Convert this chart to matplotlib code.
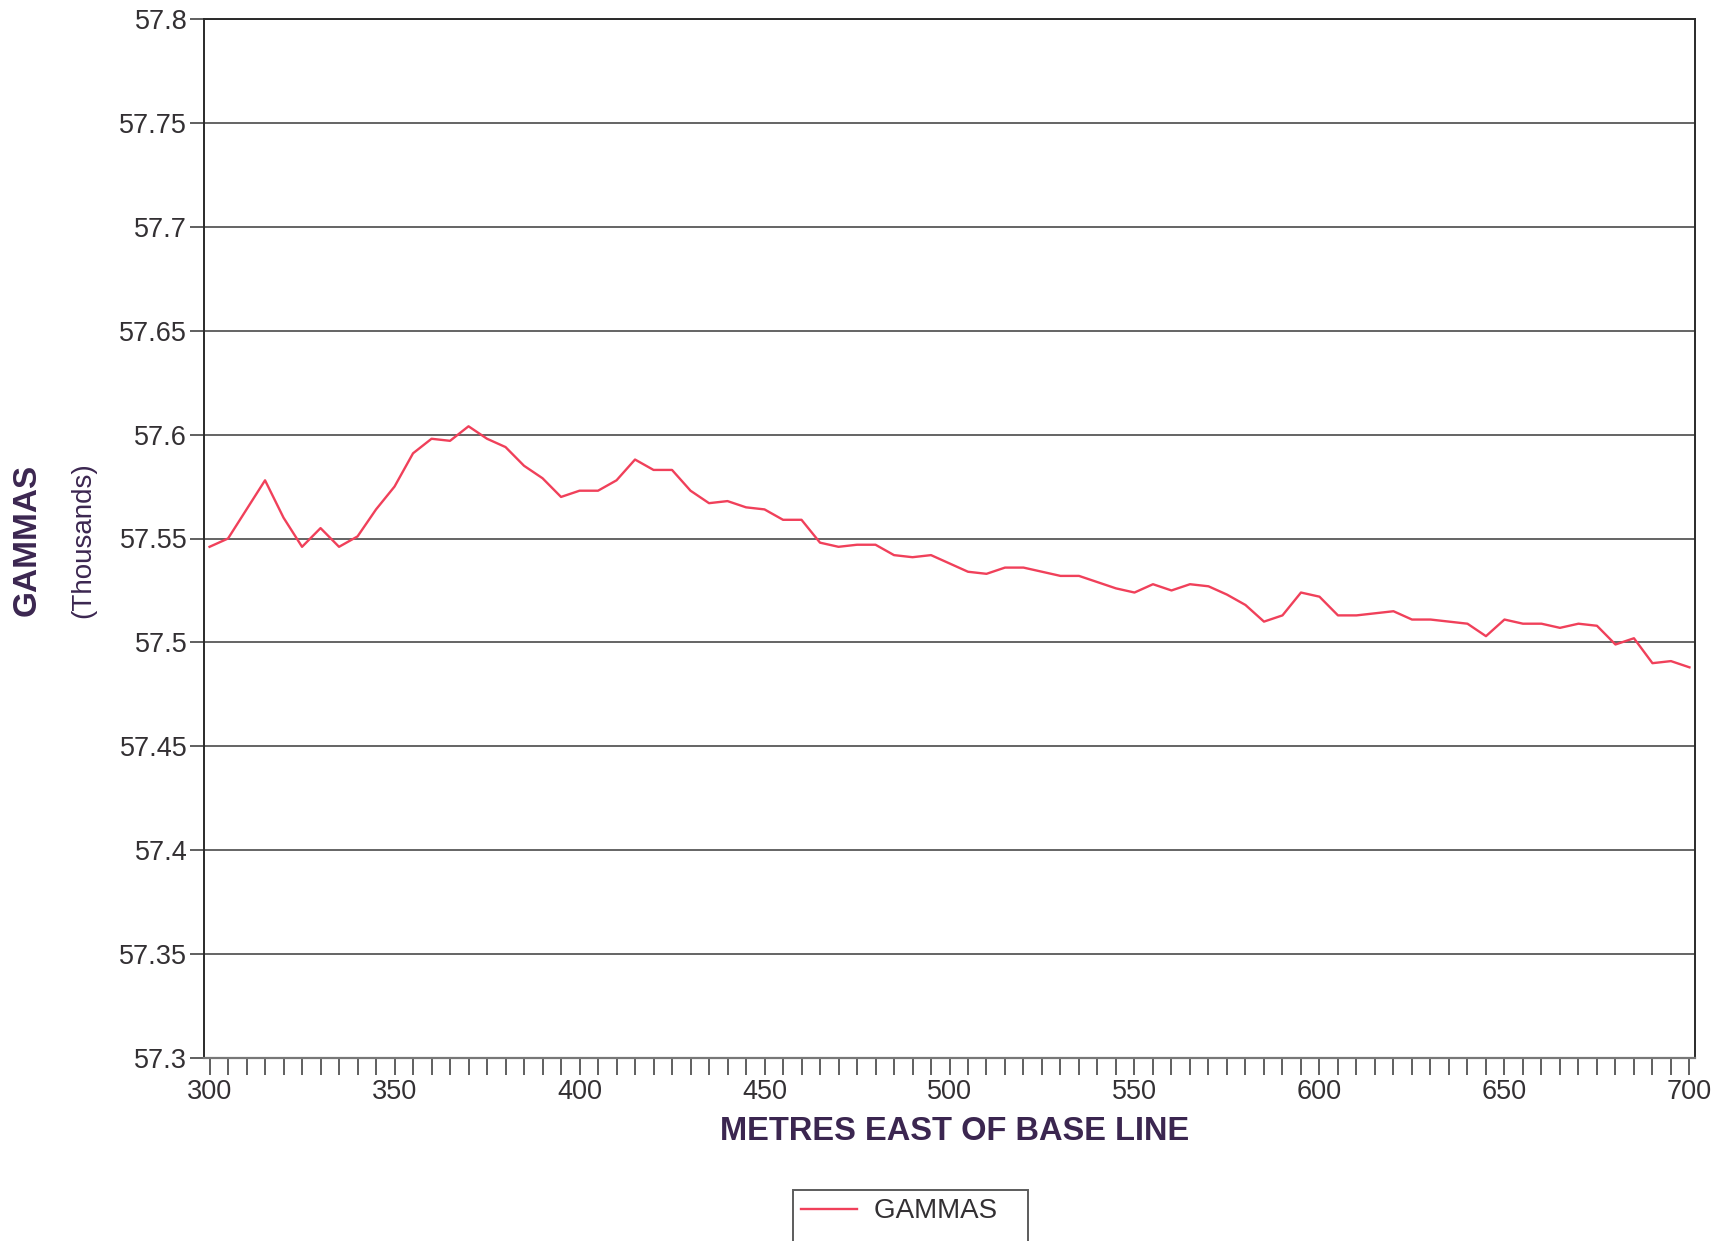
import matplotlib
matplotlib.use("Agg")
import matplotlib.pyplot as plt
from matplotlib.lines import Line2D

# metres east of base line, every 5 m
metres = list(range(300, 705, 5))

# gammas (thousands)
gammas = [
    57.546, 57.550, 57.564, 57.578, 57.560, 57.546, 57.555, 57.546, 57.551, 57.564,
    57.575, 57.591, 57.598, 57.597, 57.604, 57.598, 57.594, 57.585, 57.579, 57.570,
    57.573, 57.573, 57.578, 57.588, 57.583, 57.583, 57.573, 57.567, 57.568, 57.565,
    57.564, 57.559, 57.559, 57.548, 57.546, 57.547, 57.547, 57.542, 57.541, 57.542,
    57.538, 57.534, 57.533, 57.536, 57.536, 57.534, 57.532, 57.532, 57.529, 57.526,
    57.524, 57.528, 57.525, 57.528, 57.527, 57.523, 57.518, 57.510, 57.513, 57.524,
    57.522, 57.513, 57.513, 57.514, 57.515, 57.511, 57.511, 57.510, 57.509, 57.503,
    57.511, 57.509, 57.509, 57.507, 57.509, 57.508, 57.499, 57.502, 57.490, 57.491,
    57.488,
]

y_ticks = [57.3, 57.35, 57.4, 57.45, 57.5, 57.55, 57.6, 57.65, 57.7, 57.75, 57.8]
y_labels = ["57.3", "57.35", "57.4", "57.45", "57.5", "57.55", "57.6", "57.65", "57.7", "57.75", "57.8"]
x_major = [300, 350, 400, 450, 500, 550, 600, 650, 700]

TEXT = "#333033"
TITLE = "#3b2650"
LINE = "#f0405a"

plt.rcParams["font.family"] = ["Liberation Sans", "DejaVu Sans"]

fig = plt.figure(figsize=(17.28, 12.41), dpi=100)
ax = fig.add_axes([204 / 1728, 1 - 1058 / 1241, (1695 - 204) / 1728, (1058 - 19) / 1241])

(line,) = ax.plot(metres, gammas, color=LINE, lw=1.7, label="GAMMAS", zorder=3)

ax.set_xlim(298.5, 701.5)
ax.set_ylim(57.3, 57.8)

ax.set_yticks(y_ticks)
ax.set_yticklabels(y_labels)
ax.set_xticks(x_major)
ax.set_xticks(metres, minor=True)
ax.tick_params(axis="y", direction="out", length=10, width=1.2, pad=2, labelsize=19.5, labelcolor=TEXT, color="#444444")
ax.tick_params(axis="x", which="both", direction="out", length=12, width=1.2, pad=3, labelsize=19.5, labelcolor=TEXT, color="#444444")

ax.grid(axis="y", color="#3a3a3a", lw=1.1)
for side in ["top", "right", "left"]:
    ax.spines[side].set_color("#2a2a2a")
    ax.spines[side].set_linewidth(1.4)
ax.spines["bottom"].set_color("#777777")
ax.spines["bottom"].set_linewidth(1.6)

fig.text(955 / 1728, 1 - 1132 / 1241, "METRES EAST OF BASE LINE",
         weight="bold", fontsize=23.5, color=TITLE, ha="center", va="center")
fig.text(27 / 1728, 1 - 540 / 1241, "GAMMAS",
         weight="bold", fontsize=24, color=TITLE, ha="center", va="center", rotation=90)
fig.text(83 / 1728, 1 - 540 / 1241, "(Thousands)", fontsize=20, color=TITLE, ha="center", va="center", rotation=90)

blank = Line2D([], [], color="none")
leg = fig.legend(handles=[line, blank], labels=["GAMMAS   ", " "], loc="upper left",
                 bbox_to_anchor=(793 / 1728, 1 - 1190 / 1241), fontsize=20, frameon=True,
                 fancybox=False, edgecolor="#333333", borderpad=0.3, handlelength=2.0,
                 handletextpad=0.6, borderaxespad=0, labelcolor=TEXT)
leg.get_frame().set_linewidth(1.4)

fig.savefig("out.png", dpi=100)
